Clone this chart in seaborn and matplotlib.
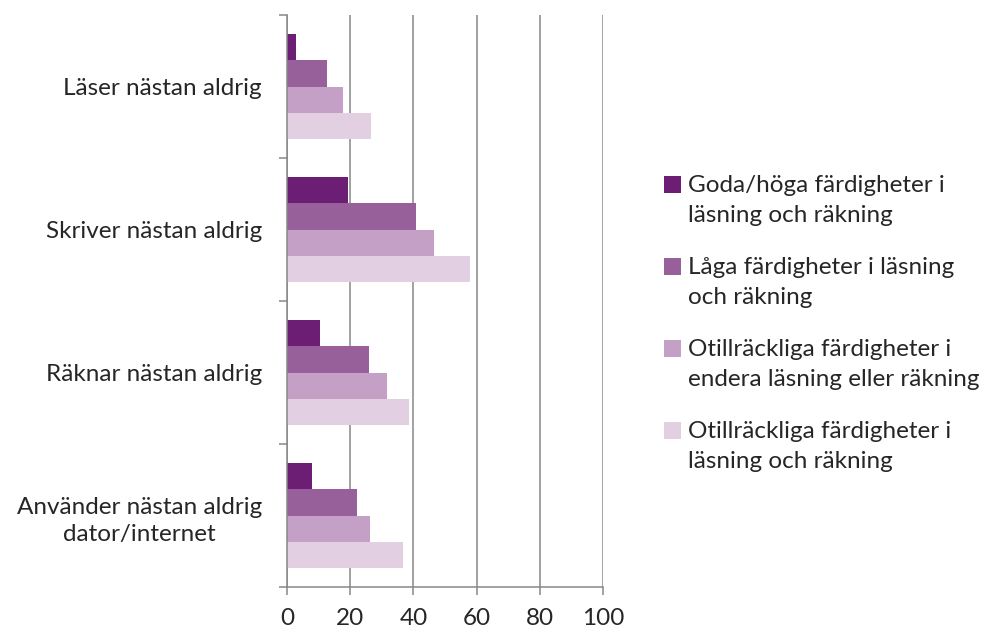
import pandas as pd
import numpy as np
import seaborn as sns
import matplotlib
matplotlib.use("Agg")
import matplotlib.pyplot as plt
from matplotlib.patches import Patch, Rectangle
from matplotlib.legend_handler import HandlerPatch

categories = ['Läser nästan aldrig', 'Skriver nästan aldrig', 'Räknar nästan aldrig',
              'Använder nästan aldrig\ndator/internet']
groups = ['Goda/höga färdigheter i läsning och räkning',
          'Låga färdigheter i läsning och räkning',
          'Otillräckliga färdigheter i endera läsning eller räkning',
          'Otillräckliga färdigheter i läsning och räkning']
legend_labels = ['Goda/höga färdigheter i\nläsning och räkning',
                 'Låga färdigheter i läsning\noch räkning',
                 'Otillräckliga färdigheter i\nendera läsning eller räkning',
                 'Otillräckliga färdigheter i\nläsning och räkning']
goda = [2.7, 19.4, 10.5, 8.0]
laga = [12.5, 40.9, 25.9, 22.0]
endera = [17.8, 46.4, 31.6, 26.2]
bada = [26.7, 57.9, 38.7, 36.8]
colors = ['#6B1E73', '#97609A', '#C5A0C6', '#E2CFE2']

rows = []
for g, vals in zip(groups, [goda, laga, endera, bada]):
    for c, v in zip(categories, vals):
        rows.append({'kategori': c, 'grupp': g, 'andel': v})
df = pd.DataFrame(rows)


class TopSquare(HandlerPatch):
    # flytta rutan upp till första raden i etiketten
    def create_artists(self, legend, orig_handle, xdescent, ydescent, width,
                       height, fontsize, trans):
        p = Rectangle((-xdescent, -ydescent + 11.5), width, height,
                      facecolor=orig_handle.get_facecolor(), edgecolor='none',
                      transform=trans)
        return [p]


sns.set_style('white')
plt.rcParams['font.family'] = ['Lato', 'DejaVu Sans']
fs = 17.5

fig = plt.figure(figsize=(9.87, 6.31), dpi=100)
ax = fig.add_axes([0.2908, 0.0697, 0.3201, 0.9065])
sns.barplot(data=df, y='kategori', x='andel', hue='grupp', order=categories,
            hue_order=groups, palette=colors, orient='h', width=0.73,
            saturation=1, linewidth=0, legend=False, ax=ax)

ax.set_xlim(0, 100)
ax.set_ylim(3.5, -0.5)
ax.set_xticks(np.arange(0, 101, 20))
ax.set_xlabel('')
ax.set_ylabel('')
ax.set_axisbelow(True)
ax.grid(axis='x', color='#878787', linewidth=1.1)
ax.grid(axis='y', visible=False)

for s in ['top', 'right']:
    ax.spines[s].set_visible(False)
for s in ['left', 'bottom']:
    ax.spines[s].set_color('#878787')
    ax.spines[s].set_linewidth(1.1)

ax.set_yticks(np.arange(-0.5, 4, 1), minor=True)
ax.tick_params(axis='y', which='major', length=0, pad=18, labelsize=fs)
ax.tick_params(axis='y', which='minor', length=6, width=1.1, color='#878787', left=True)
ax.tick_params(axis='x', length=6, width=1.1, color='#878787', bottom=True, pad=9, labelsize=fs)
for t in ax.get_yticklabels():
    t.set_multialignment('center')
    t.set_linespacing(1.4)

handles = [Patch(facecolor=c, edgecolor='none') for c in colors]
leg = fig.legend(handles, legend_labels, loc='upper left',
                 bbox_to_anchor=(664 / 987, 1 - 175 / 631), frameon=False,
                 fontsize=fs, handlelength=0.68, handleheight=0.68,
                 handletextpad=0.3, labelspacing=1.3, borderpad=0, borderaxespad=0,
                 handler_map={Patch: TopSquare()})
for t in leg.get_texts():
    t.set_linespacing(1.5)

fig.savefig('out.png', dpi=100)
